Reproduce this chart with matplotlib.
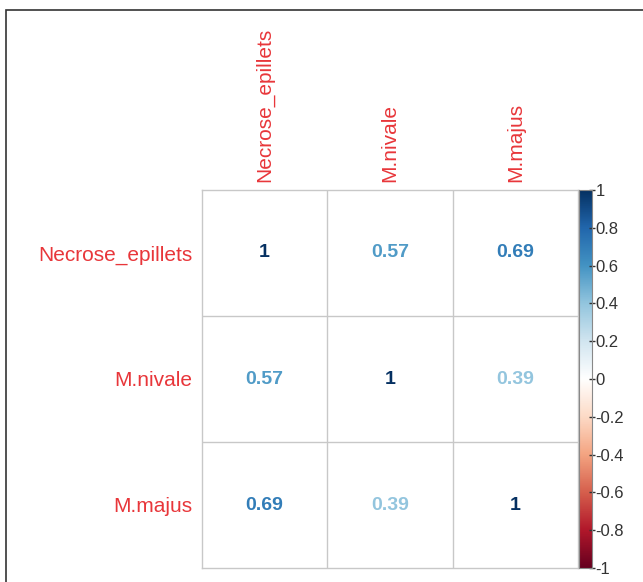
import matplotlib
matplotlib.use("Agg")
import matplotlib.pyplot as plt
import matplotlib.patches as mpatches
import numpy as np
from matplotlib.colors import LinearSegmentedColormap, Normalize

plt.rcParams["font.family"] = ["Liberation Sans", "DejaVu Sans"]

variables = ["Necrose_epillets", "M.nivale", "M.majus"]
corr = np.array([
    [1.00, 0.57, 0.69],
    [0.57, 1.00, 0.39],
    [0.69, 0.39, 1.00],
])
bar_ticks = [1, 0.8, 0.6, 0.4, 0.2, 0, -0.2, -0.4, -0.6, -0.8, -1]

# corrplot's COL2("RdBu") palette
rdbu = ["#67001F", "#B2182B", "#D6604D", "#F4A582", "#FDDBC7", "#FFFFFF",
        "#D1E5F0", "#92C5DE", "#4393C3", "#2166AC", "#053061"]
cmap = LinearSegmentedColormap.from_list("col2", rdbu, N=200)
norm = Normalize(-1, 1)

W, H = 643, 582
fig = plt.figure(figsize=(W / 100, H / 100), dpi=100)

# outer frame
fig.add_artist(mpatches.Rectangle((6 / W, -0.1), 1.0, (H - 10) / H + 0.1,
                                  transform=fig.transFigure, fill=False,
                                  edgecolor="#333333", linewidth=1.2))

x0, x1, y0, y1 = 202, 578, 190, 568
ax = fig.add_axes([x0 / W, (H - y1) / H, (x1 - x0) / W, (y1 - y0) / H])
n = len(variables)
ax.set_xlim(0, n)
ax.set_ylim(n, 0)
for k in range(1, n):
    ax.axhline(k, color="#c8c8c8", linewidth=1.0)
    ax.axvline(k, color="#c8c8c8", linewidth=1.0)
for s in ax.spines.values():
    s.set_color("#c8c8c8")
    s.set_linewidth(1.0)

for i in range(n):
    for j in range(n):
        v = corr[i, j]
        ax.text(j + 0.5, i + 0.5, f"{v:g}", ha="center", va="center",
                fontsize=14, fontweight="bold", color=cmap(norm(v)))

red = "#e8363a"
ax.set_xticks(np.arange(n) + 0.5)
ax.set_xticklabels(variables, rotation=90, color=red, fontsize=15)
ax.xaxis.tick_top()
ax.set_yticks(np.arange(n) + 0.5)
ax.set_yticklabels(variables, color=red, fontsize=15)
ax.tick_params(axis="x", length=0, pad=6)
ax.tick_params(axis="y", length=0, pad=7)

# colour legend
cax = fig.add_axes([579 / W, (H - y1) / H, 13 / W, (y1 - y0) / H])
grad = np.linspace(-1, 1, 200).reshape(-1, 1)
cax.imshow(grad, aspect="auto", cmap=cmap, norm=norm, origin="lower",
           extent=[0, 1, -1, 1])
cax.set_xticks([])
cax.yaxis.tick_right()
cax.set_yticks(bar_ticks)
cax.set_yticklabels([f"{t:g}" for t in bar_ticks], fontsize=12, color="#333333")
cax.tick_params(axis="y", direction="inout", length=5, width=1,
                color="#333333", pad=0)
for s in cax.spines.values():
    s.set_color("#888888")
    s.set_linewidth(0.8)

fig.savefig("out.png", dpi=100)
